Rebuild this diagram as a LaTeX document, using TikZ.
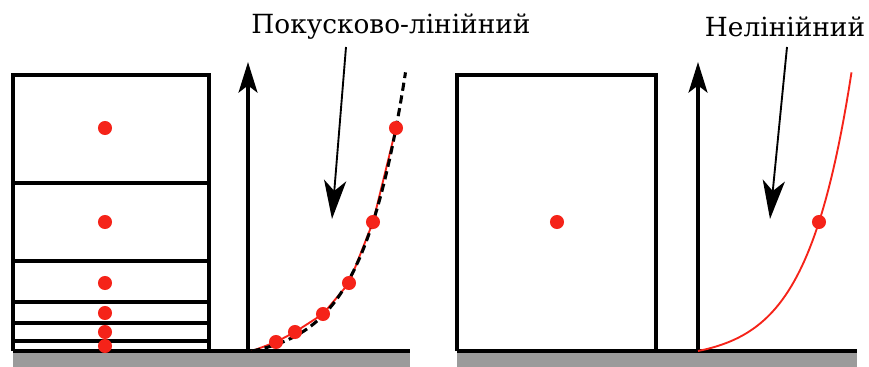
\documentclass[tikz,border=0pt]{standalone}
\usepackage{fontspec}
\setmainfont{DejaVu Serif}
\usetikzlibrary{arrows.meta}

\definecolor{dotred}{RGB}{245,35,25}
\definecolor{floorgray}{RGB}{155,155,155}

\tikzset{
	axis/.style={line width=3.4pt, -{Stealth[length=26pt, width=16pt, inset=6pt]}},
	leader/.style={line width=1.6pt, -{Stealth[length=33pt, width=19pt, inset=9pt]}},
	cell/.style={line width=2.6pt},
	dot/.style={fill=dotred},
	lbl/.style={font=\fontsize{22.5}{27}\selectfont, inner sep=0pt}
}

\begin{document}
\begin{tikzpicture}[x=0.03cm, y=-0.03cm]
	\def\dotr{6pt}
	\def\floory{351}
	% profile: height = a (exp(b x) - 1)
	\def\profa{8.96}
	\def\profb{0.0226}
	\useasboundingbox (0,0) rectangle (869,367);

	% floor, left part
	\fill[floorgray] (13,353) rectangle (410,367);
	\draw[line width=3.4pt] (13,\floory) -- (410,\floory);

	% floor, right part
	\fill[floorgray] (457,353) rectangle (857,367);
	\draw[line width=3.4pt] (457,\floory) -- (857,\floory);

	% stack of cells
	\draw[cell] (13,\floory) -- (13,75) -- (209,75) -- (209,\floory);
	\foreach \yy in {183, 261, 302, 323, 341}
		\draw[cell] (13,\yy) -- (209,\yy);
	\foreach \yy in {128, 222, 283, 313, 332, 346}
		\fill[dot] (105,\yy) circle (\dotr);

	% one cell
	\draw[cell] (457,\floory) -- (457,75) -- (656,75) -- (656,\floory);
	\fill[dot] (557,222) circle (\dotr);

	% axes
	\coordinate (o1) at (248,\floory);
	\coordinate (t1) at (248,62);
	\draw[axis] (o1) -- (t1);
	\coordinate (o2) at (698,\floory);
	\coordinate (t2) at (698,62);
	\draw[axis] (o2) -- (t2);

	% piecewise linear profile
	\draw[dotred, line width=1.6pt] (252,351) -- (276,342) -- (295,332) -- (323,314)
		-- (349,283) -- (373,222) -- (396,128);
	\draw[line width=2.6pt, dash pattern=on 7pt off 4pt, shift={(252,351)}]
		plot[domain=0:153.5, samples=60] (\x, {-\profa*(exp(\profb*\x)-1)});
	\foreach \xx/\yy in {276/342, 295/332, 323/314, 349/283, 373/222, 396/128}
		\fill[dot] (\xx,\yy) circle (\dotr);

	% nonlinear profile
	\draw[dotred, line width=1.6pt, shift={(698,351)}]
		plot[domain=0:153.5, samples=60] (\x, {-\profa*(exp(\profb*\x)-1)});
	\fill[dot] (819,222) circle (\dotr);

	% labels
	\node[lbl] (pw) at (391,27) {Покусково-лінійний};
	\coordinate (pwend) at (332,219);
	\draw[leader] (346,47) -- (pwend);

	\node[lbl] (nl) at (785,27) {Нелінійний};
	\coordinate (nlend) at (770,219);
	\draw[leader] (787,47) -- (nlend);
\end{tikzpicture}
\end{document}
